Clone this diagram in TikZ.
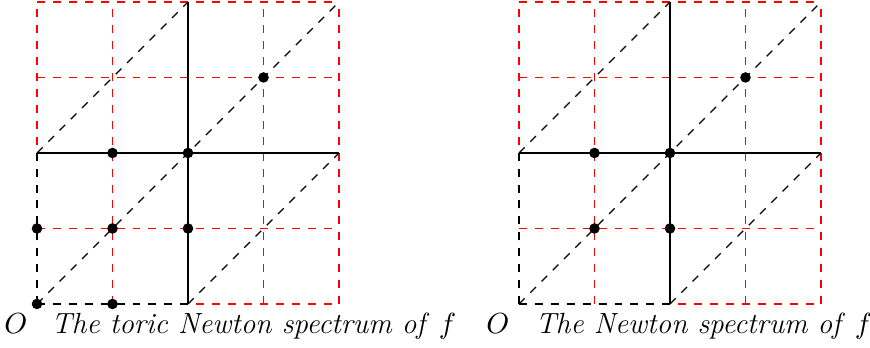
\documentclass[tikz,border=0pt]{standalone}
\begin{document}
\begin{tikzpicture}[
  gridline/.style={draw=red, dashed, line width=0.6pt},
  edge/.style={draw=black, line width=0.5pt},
  dashedge/.style={draw=black, dashed, line width=0.5pt},
  pt/.style={circle, fill=black, inner sep=0pt, minimum size=0.14cm},
  lab/.style={inner sep=0pt, anchor=base west, font=\fontsize{11pt}{13pt}\selectfont}
]
\useasboundingbox (-0.49,-0.583) rectangle (11.033,4.026);
\foreach \p/\dx in {L/0, R/6.384}{
  \begin{scope}[xshift=\dx cm]
    \foreach \i in {0,...,4}{\foreach \j in {0,...,4}{\coordinate (\p\i\j) at (\i,\j);}}
    % red grid
    \draw[gridline] (\p00) grid (\p44);
    % black lines
    \draw[edge] (\p02) -- (\p42);
    \draw[edge] (\p20) -- (\p24);
    \draw[dashedge] (\p00) -- (\p02);
    \draw[dashedge] (\p00) -- (\p20);
    \draw[dashedge] (\p00) -- (\p44);
    \draw[dashedge] (\p02) -- (\p24);
    \draw[dashedge] (\p20) -- (\p42);
    \node[lab, anchor=base east] (\p O) at (-0.12,-0.385) {$O$};
  \end{scope}
}
% dots left
\foreach \c in {L00,L10,L01,L11,L21,L12,L22,L33}{\node[pt] (d\c) at (\c) {};}
% dots right
\foreach \c in {R11,R21,R12,R22,R33}{\node[pt] (d\c) at (\c) {};}
\node[lab] (Ltext) at (0.185,-0.385) {\textit{The toric Newton spectrum of} $f$};
\node[lab] (Rtext) at (6.384+0.212,-0.385) {\textit{The Newton spectrum of} $f$};
\end{tikzpicture}
\end{document}
